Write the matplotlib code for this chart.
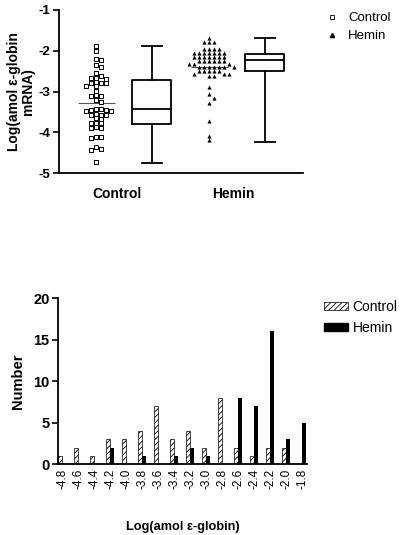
import numpy as np
import matplotlib
matplotlib.use("Agg")
import matplotlib.pyplot as plt
from matplotlib.patches import Patch
from matplotlib.lines import Line2D

plt.rcParams['font.family'] = ['Liberation Sans', 'DejaVu Sans']
plt.rcParams['axes.unicode_minus'] = False
plt.rcParams['hatch.linewidth'] = 0.6

# ---------------- data ----------------
control_values = [-1.875, -2.00, -2.23, -2.20, -2.36, -2.41, -2.55, -2.63, -2.67, -2.69,
                  -2.66, -2.80, -2.80, -2.80, -2.76, -2.86, -2.86, -2.98, -3.08, -3.11,
                  -3.12, -3.22, -3.25, -3.42, -3.45, -3.47, -3.47, -3.45, -3.43, -3.55,
                  -3.57, -3.57, -3.57, -3.66, -3.68, -3.78, -3.78, -3.78, -3.90, -3.90,
                  -3.88, -4.12, -4.15, -4.12, -4.41, -4.43, -4.37, -4.74]
hemin_values = [-1.69, -1.79, -1.79, -1.79, -1.95, -1.95, -1.95, -1.95,
                -2.06, -2.06, -2.06, -2.06, -2.06, -2.06, -2.06,
                -2.15, -2.15, -2.15, -2.15, -2.15, -2.15, -2.15,
                -2.24, -2.24, -2.24, -2.24, -2.24, -2.24,
                -2.32, -2.32, -2.32,
                -2.40, -2.40, -2.40, -2.40, -2.40, -2.40, -2.40,
                -2.49, -2.49, -2.49, -2.49, -2.49,
                -2.57, -2.57, -2.57, -2.63, -2.63,
                -2.89, -3.07, -3.15, -3.27, -3.72, -4.10, -4.19]
control_mean = -3.29
hemin_mean = -2.39
# box stats: (low whisker, q1, median, q3, high whisker)
control_box = (-4.75, -3.79, -3.43, -2.73, -1.875)
hemin_box = (-4.23, -2.50, -2.23, -2.09, -1.68)
group_labels = ["Control", "Hemin"]

bin_labels = ["-4.8", "-4.6", "-4.4", "-4.2", "-4.0", "-3.8", "-3.6", "-3.4",
              "-3.2", "-3.0", "-2.8", "-2.6", "-2.4", "-2.2", "-2.0", "-1.8"]
control_counts = [1, 2, 1, 3, 3, 4, 7, 3, 4, 2, 8, 2, 1, 2, 2, 0]
hemin_counts = [0, 0, 0, 2, 0, 1, 0, 1, 2, 1, 0, 8, 7, 16, 3, 5]

# ---------------- figure ----------------
W, H = 400, 535
fig = plt.figure(figsize=(W / 100, H / 100), dpi=100)

# top panel
ax1 = fig.add_axes([59 / W, 1 - 173 / H, (303 - 59) / W, (173 - 10) / H])
ax1.set_xlim(0, 1)
ax1.set_ylim(-5, -1)
ax_w_px = 303 - 59
px_per_unit = (173 - 10) / 4.0


def swarm(values, step_px=5.0, dx_min=4.5, dy_min=3.4):
    order = np.argsort(values)[::-1]
    placed = []
    offs = np.zeros(len(values))
    cands = [0]
    for j in range(1, 30):
        cands += [j, -j]
    for i in order:
        yv = values[i] * px_per_unit
        for c in cands:
            xo = c * step_px
            if all(not (abs(px_ - xo) < dx_min and abs(py_ - yv) < dy_min)
                   for (px_, py_) in placed):
                offs[i] = xo
                placed.append((xo, yv))
                break
    return offs / ax_w_px


c_pos, cbox_pos, h_pos, hbox_pos = 0.152, 0.381, 0.615, 0.844
half_mean = 18.5 / ax_w_px
cv = np.array(control_values)
hv = np.array(hemin_values)
ax1.scatter(c_pos + swarm(cv), cv, marker='s', s=7, facecolors='white',
            edgecolors='black', linewidths=0.7, zorder=3)
ax1.scatter(h_pos + swarm(hv), hv, marker='^', s=9, color='black',
            linewidths=0, zorder=3)
ax1.hlines([control_mean, hemin_mean], [c_pos - half_mean, h_pos - half_mean],
           [c_pos + half_mean, h_pos + half_mean], color='#555555', linewidth=0.8,
           zorder=2)

stats = []
for b in (control_box, hemin_box):
    stats.append(dict(whislo=b[0], q1=b[1], med=b[2], q3=b[3], whishi=b[4], fliers=[]))
lw = 1.3
ax1.bxp(stats, positions=[cbox_pos, hbox_pos], widths=0.16, showfliers=False,
        boxprops=dict(linewidth=lw), whiskerprops=dict(linewidth=lw),
        capprops=dict(linewidth=lw), medianprops=dict(linewidth=lw, color='black'),
        capwidths=0.085, manage_ticks=False)

for s in ['top', 'right']:
    ax1.spines[s].set_visible(False)
ax1.spines['left'].set_linewidth(1.3)
ax1.spines['bottom'].set_linewidth(1.3)
ax1.set_yticks([-1, -2, -3, -4, -5])
ax1.set_yticklabels(['-1', '-2', '-3', '-4', '-5'], fontsize=9.5, fontweight='bold')
ax1.tick_params(axis='y', length=4, width=1.2, pad=2)
ax1.set_xticks([0.238, 0.713])
ax1.set_xticklabels(group_labels, fontsize=10, fontweight='bold')
ax1.tick_params(axis='x', length=0, pad=10)
ax1.set_ylabel('Log(amol ε-globin\nmRNA)', fontsize=10, fontweight='bold',
               linespacing=1.0, labelpad=3)

leg1 = [Line2D([], [], marker='s', linestyle='none', markersize=3,
               markerfacecolor='white', markeredgecolor='black', markeredgewidth=0.6,
               label=group_labels[0]),
        Line2D([], [], marker='^', linestyle='none', markersize=3, color='black',
               label=group_labels[1])]
fig.legend(handles=leg1, loc='upper left', bbox_to_anchor=(327 / W, 1 - 12 / H),
           frameon=False, fontsize=9.5, handlelength=0.8, handletextpad=0.8,
           labelspacing=0.45, borderaxespad=0, borderpad=0)

# bottom panel
ax2 = fig.add_axes([58 / W, 1 - 464.3 / H, (307 - 58) / W, (464.3 - 298.3) / H])
x = np.arange(len(bin_labels))
bw = 0.25
ax2.bar(x - bw / 2, control_counts, width=bw, facecolor='white', edgecolor='black',
        hatch='//////', linewidth=0.5, label='Control')
ax2.bar(x + bw / 2, hemin_counts, width=bw, color='black', linewidth=0,
        label='Hemin')
ax2.set_xlim(-0.25, 15.3)
ax2.set_ylim(0, 20)
for s in ['top', 'right']:
    ax2.spines[s].set_visible(False)
ax2.spines['left'].set_linewidth(1.3)
ax2.spines['bottom'].set_linewidth(1.3)
ax2.set_yticks([0, 5, 10, 15, 20])
ax2.set_yticklabels(['0', '5', '10', '15', '20'], fontsize=10.5, fontweight='bold')
ax2.tick_params(axis='y', length=4, width=1.2, pad=2)
ax2.set_xticks(x)
ax2.set_xticklabels(bin_labels, rotation=90, fontsize=8.5)
ax2.tick_params(axis='x', length=0, pad=3)
ax2.set_ylabel('Number', fontsize=10.5, fontweight='bold', labelpad=6)
ax2.set_xlabel('Log(amol ε-globin)', fontsize=9.2, fontweight='bold', labelpad=23)

leg2 = [Patch(facecolor='white', edgecolor='black', hatch='//////', linewidth=0.5,
              label='Control'),
        Patch(facecolor='black', edgecolor='black', label='Hemin')]
fig.legend(handles=leg2, loc='upper left', bbox_to_anchor=(324 / W, 1 - 300 / H),
           frameon=False, fontsize=10, handlelength=1.7, handleheight=0.55,
           handletextpad=0.35, labelspacing=0.5, borderaxespad=0, borderpad=0)

fig.savefig('out.png', dpi=100, facecolor='white')
